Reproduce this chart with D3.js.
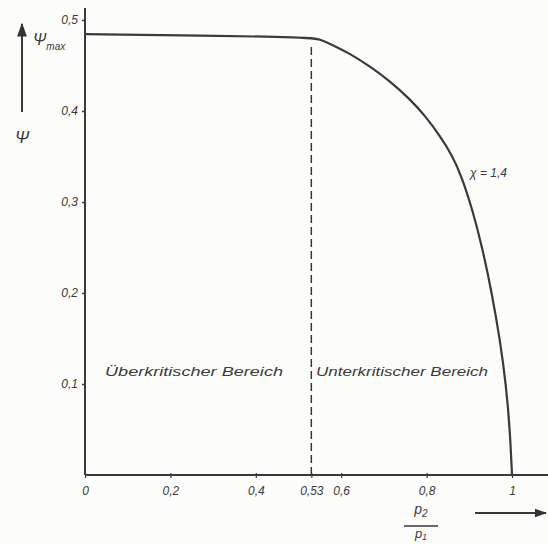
<!DOCTYPE html>
<html><head><meta charset="utf-8">
<script src="https://cdn.jsdelivr.net/npm/d3@7"></script>
<style>
html,body{margin:0;padding:0;background:#fcfcfa;}
svg{display:block;}
text{font-family:"Liberation Sans","DejaVu Sans",sans-serif;font-style:italic;fill:#3a3a3a;}
</style></head><body>
<script>
// Data
const ratio = [0, 0.53, 0.550, 0.574, 0.621, 0.667, 0.714, 0.761, 0.796, 0.831, 0.860, 0.883, 0.906, 0.930, 0.953, 0.972, 0.986, 0.995, 1.0];
const psi   = [0.4845, 0.4815, 0.4786, 0.474, 0.463, 0.449, 0.433, 0.413, 0.395, 0.373, 0.3513, 0.3266, 0.2936, 0.251, 0.1995, 0.148, 0.099, 0.0505, 0];
const xTicks = [0, 0.2, 0.4, 0.53, 0.6, 0.8, 1];
const xTickLabels = ["0", "0,2", "0,4", "0,53", "0,6", "0,8", "1"];
const yTicks = [0.1, 0.2, 0.3, 0.4, 0.5];
const yTickLabels = ["0,1", "0,2", "0,3", "0,4", "0,5"];
const criticalRatio = 0.53;
const regionLabels = ["Überkritischer Bereich", "Unterkritischer Bereich"];
const curveLabel = "χ = 1,4";

const W = 548, H = 544;
const svg = d3.select("body").append("svg").attr("width", W).attr("height", H);
const defs = svg.append("defs");
defs.append("marker").attr("id","ah").attr("viewBox","0 0 10 10").attr("refX",9).attr("refY",5)
  .attr("markerWidth",7).attr("markerHeight",7).attr("orient","auto-start-reverse")
  .append("path").attr("d","M0,1.5 L10,5 L0,8.5 Z").attr("fill","#333");

const x = d3.scaleLinear().domain([0, 1]).range([85, 512]);
const y = d3.scaleLinear().domain([0, 0.5]).range([475, 20]);
const ink = "#3a3a3a";

// axis lines
svg.append("line").attr("x1", x(0)).attr("x2", 548).attr("y1", y(0)).attr("y2", y(0))
  .attr("stroke", ink).attr("stroke-width", 2);
svg.append("line").attr("x1", x(0)).attr("x2", x(0)).attr("y1", y(0)).attr("y2", 8)
  .attr("stroke", ink).attr("stroke-width", 2);

// y axis ticks
const yAxis = d3.axisLeft(y).tickValues(yTicks).tickSize(3).tickPadding(4)
  .tickFormat((d, i) => yTickLabels[i]);
const gy = svg.append("g").attr("transform", `translate(${x(0)},0)`).call(yAxis);
gy.select(".domain").remove();
gy.selectAll("line").attr("stroke", ink).attr("stroke-width", 1.5);
gy.selectAll("text").attr("font-size", 12).attr("font-family", null).attr("fill", ink);

// x axis ticks
const xAxis = d3.axisBottom(x).tickValues(xTicks).tickSize(3).tickPadding(8)
  .tickFormat((d, i) => xTickLabels[i]);
const gx = svg.append("g").attr("transform", `translate(0,${y(0)})`).call(xAxis);
gx.select(".domain").remove();
gx.selectAll("line").attr("stroke", ink).attr("stroke-width", 1.2).attr("y1", -2);
gx.selectAll("text").attr("font-size", 12).attr("font-family", null).attr("fill", ink);

// dashed critical line
svg.append("line").attr("x1", x(criticalRatio)).attr("x2", x(criticalRatio))
  .attr("y1", y(0)).attr("y2", y(psi[1]) + 8)
  .attr("stroke", ink).attr("stroke-width", 1.5).attr("stroke-dasharray", "8,4");

// curve
const pts = ratio.map((r, i) => [r, psi[i]]);
svg.append("path").datum(pts)
  .attr("d", d3.line().x(d => x(d[0])).y(d => y(d[1])).curve(d3.curveBasis))
  .attr("fill", "none").attr("stroke", ink).attr("stroke-width", 2.2);

// region labels
svg.append("text").attr("x", 105).attr("y", 376).attr("font-size", 13)
  .attr("textLength", 178).attr("lengthAdjust", "spacingAndGlyphs").text(regionLabels[0]);
svg.append("text").attr("x", 316).attr("y", 376).attr("font-size", 13)
  .attr("textLength", 172).attr("lengthAdjust", "spacingAndGlyphs").text(regionLabels[1]);

// curve label
svg.append("text").attr("x", 470).attr("y", 177).attr("font-size", 12).text(curveLabel);

// y quantity labels
svg.append("line").attr("x1", 22).attr("x2", 22).attr("y1", 112).attr("y2", 24)
  .attr("stroke", ink).attr("stroke-width", 2).attr("marker-end", "url(#ah)");
svg.append("text").attr("x", 22).attr("y", 143).attr("text-anchor", "middle")
  .attr("font-size", 17).text("Ψ");
const pm = svg.append("text").attr("x", 33).attr("y", 45).attr("font-size", 16);
pm.append("tspan").text("Ψ");
pm.append("tspan").attr("font-size", 10).attr("dy", 5).text("max");

// x quantity label
const fx = 421;
svg.append("text").attr("x", fx).attr("y", 514).attr("text-anchor", "middle").attr("font-size", 14)
  .html('p<tspan font-size="10" dy="3">2</tspan>');
svg.append("line").attr("x1", fx - 17).attr("x2", fx + 17).attr("y1", 526).attr("y2", 526)
  .attr("stroke", ink).attr("stroke-width", 1.5);
svg.append("text").attr("x", fx).attr("y", 538).attr("text-anchor", "middle").attr("font-size", 13)
  .html('p<tspan font-size="9" dy="2">1</tspan>');
svg.append("line").attr("x1", 475).attr("x2", 546).attr("y1", 513).attr("y2", 513)
  .attr("stroke", ink).attr("stroke-width", 1.8).attr("marker-end", "url(#ah)");
</script>
</body></html>
